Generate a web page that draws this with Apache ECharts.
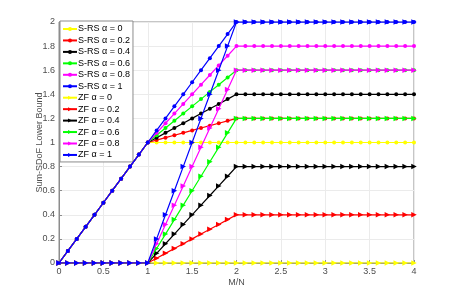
<!DOCTYPE html>
<html><head><meta charset="utf-8">
<script src="https://cdn.jsdelivr.net/npm/echarts@6/dist/echarts.min.js"></script>
<style>html,body{margin:0;padding:0;background:#fff}#c{width:457px;height:296px}</style>
</head><body><div id="c"></div>
<script>
const xs = [0,0.1,0.2,0.3,0.4,0.5,0.6,0.7,0.8,0.9,1,1.1,1.2,1.3,1.4,1.5,1.6,1.7,1.8,1.9,2,2.1,2.2,2.3,2.4,2.5,2.6,2.7,2.8,2.9,3,3.1,3.2,3.3,3.4,3.5,3.6,3.7,3.8,3.9,4];
const srs0 = [0,0.1,0.2,0.3,0.4,0.5,0.6,0.7,0.8,0.9,1,1,1,1,1,1,1,1,1,1,1,1,1,1,1,1,1,1,1,1,1,1,1,1,1,1,1,1,1,1,1];
const srs02 = [0,0.1,0.2,0.3,0.4,0.5,0.6,0.7,0.8,0.9,1,1.02,1.04,1.06,1.08,1.1,1.12,1.14,1.16,1.18,1.2,1.2,1.2,1.2,1.2,1.2,1.2,1.2,1.2,1.2,1.2,1.2,1.2,1.2,1.2,1.2,1.2,1.2,1.2,1.2,1.2];
const srs04 = [0,0.1,0.2,0.3,0.4,0.5,0.6,0.7,0.8,0.9,1,1.04,1.08,1.12,1.16,1.2,1.24,1.28,1.32,1.36,1.4,1.4,1.4,1.4,1.4,1.4,1.4,1.4,1.4,1.4,1.4,1.4,1.4,1.4,1.4,1.4,1.4,1.4,1.4,1.4,1.4];
const srs06 = [0,0.1,0.2,0.3,0.4,0.5,0.6,0.7,0.8,0.9,1,1.06,1.12,1.18,1.24,1.3,1.36,1.42,1.48,1.54,1.6,1.6,1.6,1.6,1.6,1.6,1.6,1.6,1.6,1.6,1.6,1.6,1.6,1.6,1.6,1.6,1.6,1.6,1.6,1.6,1.6];
const srs08 = [0,0.1,0.2,0.3,0.4,0.5,0.6,0.7,0.8,0.9,1,1.08,1.16,1.24,1.32,1.4,1.48,1.56,1.64,1.72,1.8,1.8,1.8,1.8,1.8,1.8,1.8,1.8,1.8,1.8,1.8,1.8,1.8,1.8,1.8,1.8,1.8,1.8,1.8,1.8,1.8];
const srs1 = [0,0.1,0.2,0.3,0.4,0.5,0.6,0.7,0.8,0.9,1,1.1,1.2,1.3,1.4,1.5,1.6,1.7,1.8,1.9,2,2,2,2,2,2,2,2,2,2,2,2,2,2,2,2,2,2,2,2,2];
const zf0 = [0,0,0,0,0,0,0,0,0,0,0,0,0,0,0,0,0,0,0,0,0,0,0,0,0,0,0,0,0,0,0,0,0,0,0,0,0,0,0,0,0];
const zf02 = [0,0,0,0,0,0,0,0,0,0,0,0.04,0.08,0.12,0.16,0.2,0.24,0.28,0.32,0.36,0.4,0.4,0.4,0.4,0.4,0.4,0.4,0.4,0.4,0.4,0.4,0.4,0.4,0.4,0.4,0.4,0.4,0.4,0.4,0.4,0.4];
const zf04 = [0,0,0,0,0,0,0,0,0,0,0,0.08,0.16,0.24,0.32,0.4,0.48,0.56,0.64,0.72,0.8,0.8,0.8,0.8,0.8,0.8,0.8,0.8,0.8,0.8,0.8,0.8,0.8,0.8,0.8,0.8,0.8,0.8,0.8,0.8,0.8];
const zf06 = [0,0,0,0,0,0,0,0,0,0,0,0.12,0.24,0.36,0.48,0.6,0.72,0.84,0.96,1.08,1.2,1.2,1.2,1.2,1.2,1.2,1.2,1.2,1.2,1.2,1.2,1.2,1.2,1.2,1.2,1.2,1.2,1.2,1.2,1.2,1.2];
const zf08 = [0,0,0,0,0,0,0,0,0,0,0,0.16,0.32,0.48,0.64,0.8,0.96,1.12,1.28,1.44,1.6,1.6,1.6,1.6,1.6,1.6,1.6,1.6,1.6,1.6,1.6,1.6,1.6,1.6,1.6,1.6,1.6,1.6,1.6,1.6,1.6];
const zf1 = [0,0,0,0,0,0,0,0,0,0,0,0.2,0.4,0.6,0.8,1,1.2,1.4,1.6,1.8,2,2,2,2,2,2,2,2,2,2,2,2,2,2,2,2,2,2,2,2,2];
const seriesNames = ['S-RS α = 0','S-RS α = 0.2','S-RS α = 0.4','S-RS α = 0.6','S-RS α = 0.8','S-RS α = 1','ZF α = 0','ZF α = 0.2','ZF α = 0.4','ZF α = 0.6','ZF α = 0.8','ZF α = 1'];
const seriesData = [srs0,srs02,srs04,srs06,srs08,srs1,zf0,zf02,zf04,zf06,zf08,zf1];
const colors = ['#ffff00','#ff0000','#000000','#00ff00','#ff00ff','#0000ff'];

const FONT = '"Liberation Sans", Arial, sans-serif';
const series = seriesData.map((d, i) => {
  const zf = i >= 6;
  const c = colors[i % 6];
  return {
    name: seriesNames[i], type: 'line',
    data: xs.map((x, k) => [x, d[k]]),
    symbol: zf ? 'triangle' : 'circle',
    symbolRotate: zf ? -90 : 0,
    symbolSize: zf ? 5.5 : 4,
    showAllSymbol: true,
    lineStyle: { color: c, width: 1.2 },
    itemStyle: { color: c },
    z: 2 + i
  };
});

const chart = echarts.init(document.getElementById('c'), null, { renderer: 'canvas' });
chart.setOption({
  animation: false,
  color: colors,
  textStyle: { fontFamily: FONT },
  grid: { left: 59, right: 43, top: 22, bottom: 33, show: true, borderColor: '#8c8c8c', borderWidth: 1, backgroundColor: '#fff' },
  legend: {
    orient: 'vertical', left: 60, top: 21,
    backgroundColor: '#fff', borderColor: '#8c8c8c', borderWidth: 1,
    padding: [3, 3, 2, 2], itemGap: 1.45, itemWidth: 14, itemHeight: 5,
    textStyle: { fontSize: 9, color: '#000', fontFamily: FONT, lineHeight: 10, padding: [0,0,0,-4] },
    data: seriesNames
  },
  xAxis: {
    type: 'value', min: 0, max: 4, interval: 0.5,
    name: 'M/N', nameLocation: 'middle', nameGap: 15, nameMoveOverlap: false,
    nameTextStyle: { fontSize: 9, color: '#4d4d4d', fontFamily: FONT },
    axisLine: { show: true, lineStyle: { color: '#8c8c8c' } },
    axisTick: { inside: true, length: 3, lineStyle: { color: '#8c8c8c' } },
    axisLabel: { fontSize: 9, color: '#4d4d4d', margin: 4, fontFamily: FONT },
    splitLine: { show: true, lineStyle: { color: '#ebebeb' } }
  },
  yAxis: {
    type: 'value', min: 0, max: 2, interval: 0.2,
    name: 'Sum-SDoF Lower Bound', nameLocation: 'middle', nameGap: 15, nameMoveOverlap: false,
    nameTextStyle: { fontSize: 9, color: '#4d4d4d', fontFamily: FONT },
    axisLine: { show: true, lineStyle: { color: '#8c8c8c' } },
    axisTick: { inside: true, length: 3, lineStyle: { color: '#8c8c8c' } },
    axisLabel: { fontSize: 9, color: '#4d4d4d', margin: 4, fontFamily: FONT, formatter: v => String(Math.round(v*10)/10) },
    splitLine: { show: true, lineStyle: { color: '#ebebeb' } }
  },
  series: series
});
</script></body></html>
